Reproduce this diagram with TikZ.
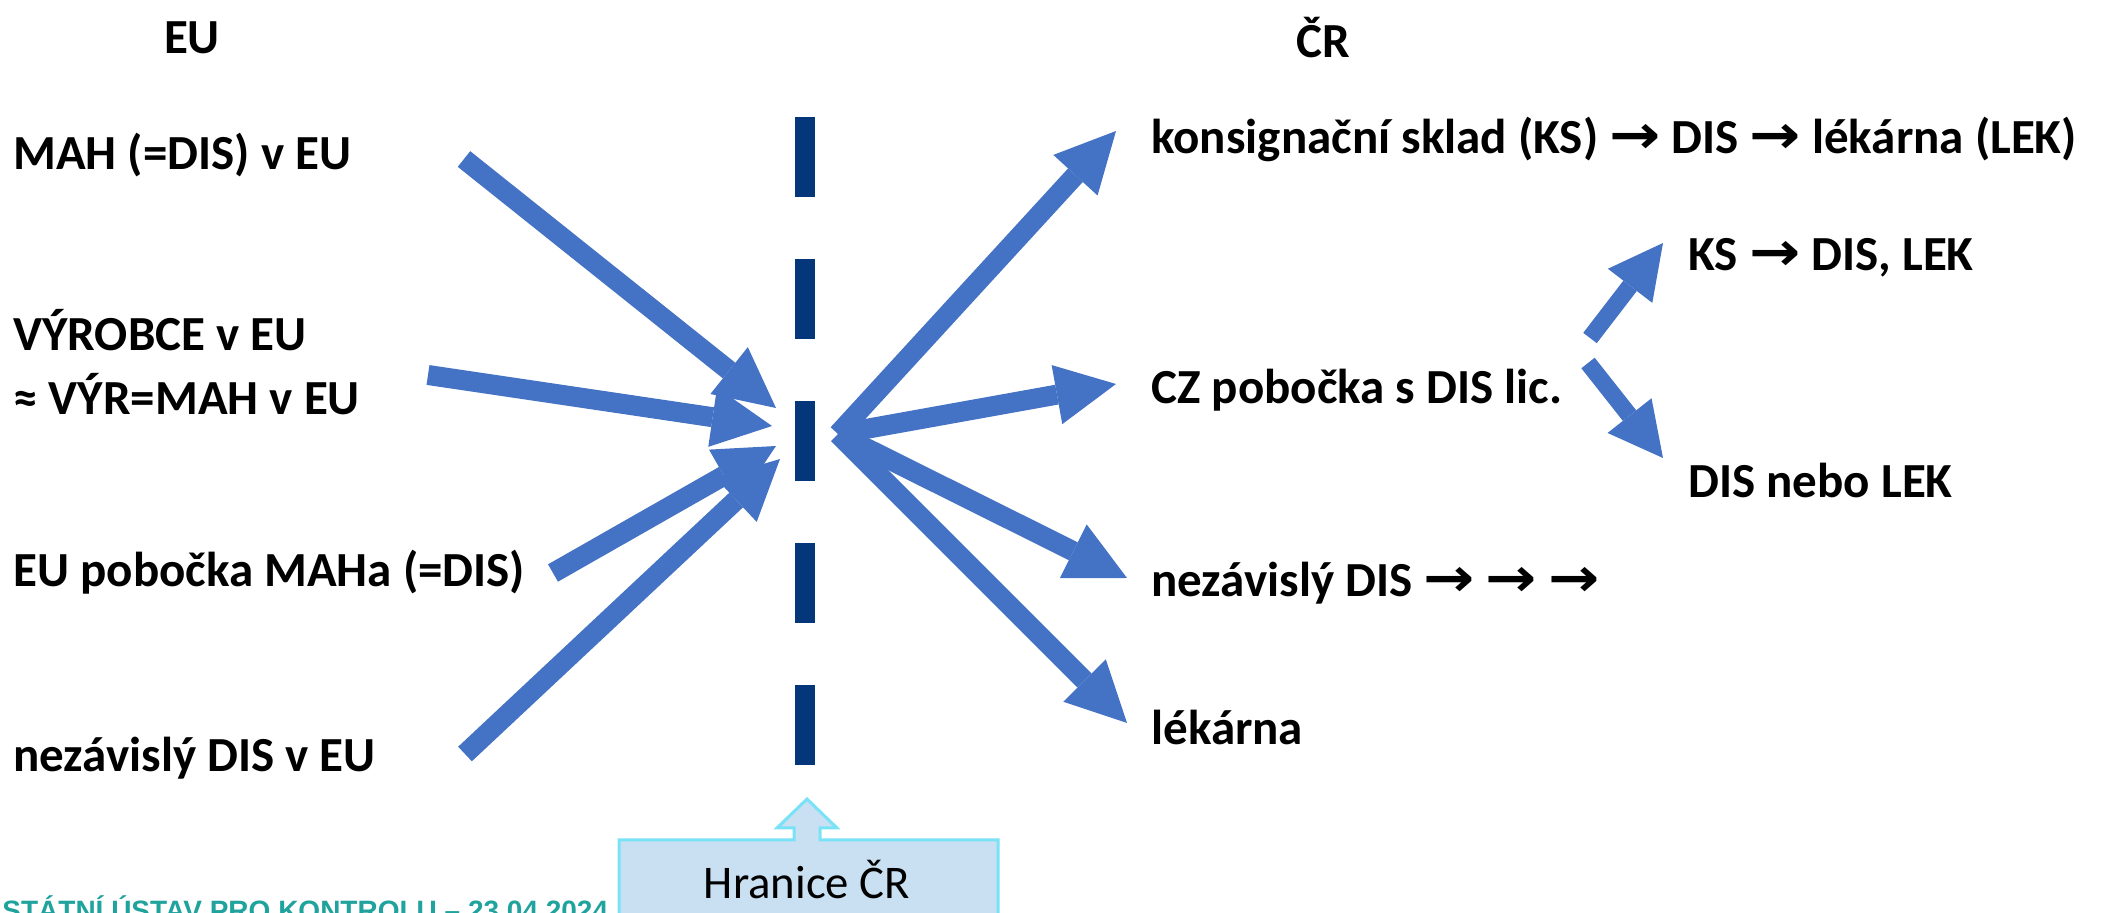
\documentclass[tikz,border=0pt]{standalone}
\usepackage{fontspec}
\setmainfont{Carlito}
\newfontfamily\arrowfont{DejaVu Sans}
\newfontfamily\footfont{Liberation Sans}
\usetikzlibrary{arrows.meta,positioning}
\definecolor{flowblue}{HTML}{4472C4}
\definecolor{bordernavy}{HTML}{03377A}
\definecolor{calloutfill}{HTML}{C9DFF2}
\definecolor{calloutline}{HTML}{79E2F7}
\definecolor{footteal}{HTML}{1FA39C}
\newcommand{\tto}{\scalebox{1.25}[1.1]{\arrowfont\bfseries →}}

\begin{document}
\begin{tikzpicture}[x=0.5pt,y=-0.5pt,
    txt/.style={anchor=west,inner sep=0pt,align=left,font=\fontsize{24.5}{32}\selectfont\bfseries},
    head/.style={txt,anchor=center},
    flow/.style={color=flowblue,line width=10pt,-{Triangle[length=30pt,width=30pt,line width=0pt]}},
    subflow/.style={flow,line width=8.5pt,-{Triangle[length=27pt,width=28pt,line width=0pt]}},
    hranice/.style={draw=bordernavy,line width=10pt,dash pattern=on 40pt off 31pt}]
  \clip (0,0) rectangle (2110,913);

  % EU side
  \node[head]  (eu)   at (192,38)   {EU};
  \node[txt]   (mah)  at (13,155)   {MAH (=DIS) v EU};
  \node[txt]   (vyr)  at (13,362)   {VÝROBCE v EU\\≈ VÝR=MAH v EU};
  \node[txt]   (pob)  at (13,572)   {EU pobočka MAHa (=DIS)};
  \node[txt]   (nez)  at (13,758)   {nezávislý DIS v EU};

  % CR side
  \node[head]  (cr)   at (1323,38)  {ČR};
  \node[txt]   (ks)   at (1151,139) {konsignační sklad (KS) \tto{} DIS \tto{} lékárna (LEK)};
  \node[txt]   (cz)   at (1151,390) {CZ pobočka s DIS lic.};
  \node[txt]   (ksdis)at (1688,258) {KS \tto{} DIS, LEK};
  \node[txt]   (disl) at (1688,480) {DIS nebo LEK};
  \node[txt]   (nzd)  at (1151,583) {nezávislý DIS \tto{} \tto{} \tto};
  \node[txt]   (lek)  at (1151,727) {lékárna};

  % arrow ends
  \coordinate (mah-s) at (464,159);  \coordinate (mah-e) at (776,408);
  \coordinate (vyr-s) at (428,375);  \coordinate (vyr-e) at (772,426);
  \coordinate (pob-s) at (553,573);  \coordinate (pob-e) at (776,446);
  \coordinate (nez-s) at (465,754);  \coordinate (nez-e) at (780,459);
  \coordinate (hub)   at (838,434);
  \coordinate (ks-e)  at (1116,131); \coordinate (cz-e)  at (1116,384);
  \coordinate (nzd-e) at (1127,578); \coordinate (lek-e) at (1127,723);
  \coordinate (up-s)  at (1590,338); \coordinate (up-e)  at (1663,243);
  \coordinate (dn-s)  at (1588,363); \coordinate (dn-e)  at (1663,458);
  \coordinate (hr-top) at (805,117); \coordinate (hr-bot) at (805,768);

  % border
  \draw[hranice] (hr-top) -- (hr-bot);

  \path [flow]
    (mah-s) edge (mah-e)
    (vyr-s) edge (vyr-e)
    (pob-s) edge (pob-e)
    (nez-s) edge (nez-e)
    (hub)   edge (ks-e)
            edge (cz-e)
            edge (nzd-e)
            edge (lek-e);
  \path [subflow]
    (up-s) edge (up-e)
    (dn-s) edge (dn-e);

  % callout
  \draw[calloutline,fill=calloutfill,line width=1.5pt]
    (619,940) -- (619,840) -- (794,840) -- (794,828) -- (777,828) -- (807,799)
    -- (837,828) -- (820,828) -- (820,840) -- (998,840) -- (998,940) -- cycle;
  \node[inner sep=0pt,font=\fontsize{23.4}{28}\selectfont] (hrtxt) at (807,880) {Hranice ČR};

  \node[anchor=base west,inner sep=0pt,text=footteal,
        font=\footfont\bfseries\fontsize{14}{16}\selectfont] (foot) at (2,921)
        {STÁTNÍ ÚSTAV PRO KONTROLU – 23.04.2024};
\end{tikzpicture}
\end{document}
